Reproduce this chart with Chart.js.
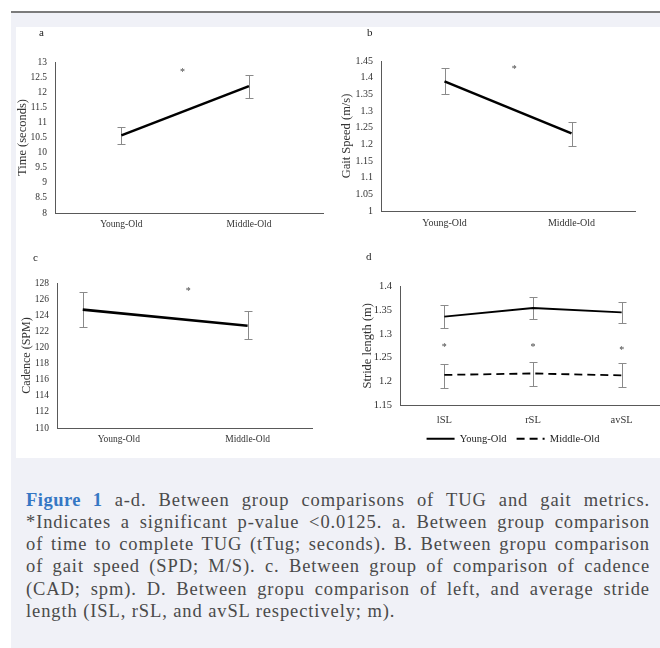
<!DOCTYPE html>
<html>
<head>
<meta charset="utf-8">
<script src="https://cdn.jsdelivr.net/npm/chart.js@4.4.0/dist/chart.umd.min.js"></script>
<style>
  body { margin: 0; width: 660px; height: 648px; position: relative; overflow: hidden; background: #fff; font-family: 'Liberation Serif', serif; }
  #box { position: absolute; left: 11px; top: 11px; width: 649px; height: 637px; background: #f0f1f7; border-top: 2px solid #7b7b7b; }
  #fig { position: absolute; left: 16px; top: 27px; width: 644px; height: 431px; background: #fff; }
  canvas { position: absolute; }
  .lbl { position: absolute; font-size: 11px; color: #222; line-height: 12px; }
  .cap { position: absolute; left: 26px; width: 624px; font-size: 18.5px; letter-spacing: 0.9px; line-height: 22px; color: #4a4a4a; text-align: justify; text-align-last: justify; white-space: nowrap; }
  .cap.last { text-align-last: left; }
  .cap b { color: #3577c4; letter-spacing: 0.5px; }
</style>
</head>
<body>
<div id="box"></div>
<div id="fig"></div>

<canvas id="chartA" width="330" height="213" style="left:0;top:27px"></canvas>
<canvas id="chartB" width="330" height="213" style="left:330px;top:27px"></canvas>
<canvas id="chartC" width="330" height="218" style="left:0;top:240px"></canvas>
<canvas id="chartD" width="340" height="218" style="left:330px;top:240px"></canvas>

<div class="lbl" style="left:39px;top:26px">a</div>
<div class="lbl" style="left:367px;top:26px">b</div>
<div class="lbl" style="left:33px;top:251px">c</div>
<div class="lbl" style="left:366px;top:250px">d</div>

<div class="cap" style="top:489px"><b>Figure 1</b> a-d. Between group comparisons of TUG and gait metrics.</div>
<div class="cap" style="top:511px">*Indicates a significant p-value &lt;0.0125. a. Between group comparison</div>
<div class="cap" style="top:533px">of time to complete TUG (tTug; seconds). B. Between gropu comparison</div>
<div class="cap" style="top:555px">of gait speed (SPD; M/S). c. Between group of comparison of cadence</div>
<div class="cap" style="top:578px">(CAD; spm). D. Between gropu comparison of left, and average stride</div>
<div class="cap last" style="top:600px">length (ISL, rSL, and avSL respectively; m).</div>

<script>
// Groups compared in panels a-c
const groups = ['Young-Old', 'Middle-Old'];
const groupPos = [0, 1];

// a. time to complete TUG (seconds)
const tugMean = [10.57, 12.2];
const tugHigh = [10.85, 12.58];
const tugLow = [10.3, 11.8];
const tugStarX = [0.48];
const tugStarY = [12.71];

// b. gait speed (m/s)
const speedMean = [1.389, 1.233];
const speedHigh = [1.43, 1.268];
const speedLow = [1.35, 1.195];
const speedStarX = [0.55];
const speedStarY = [1.43];

// c. cadence (SPM) - young-old point sits left of its label in the original
const cadX = [-0.28, 1];
const cadMean = [124.7, 122.7];
const cadHigh = [126.9, 124.5];
const cadLow = [122.5, 121.0];
const cadStarX = [0.54];
const cadStarY = [127.2];

// d. stride length (m)
const strideCats = ['lSL', 'rSL', 'avSL'];
const youngStride = [1.336, 1.354, 1.345];
const youngStrideHigh = [1.36, 1.376, 1.367];
const youngStrideLow = [1.313, 1.331, 1.322];
const middleStride = [1.214, 1.217, 1.213];
const middleStrideHigh = [1.237, 1.24, 1.238];
const middleStrideLow = [1.187, 1.191, 1.189];
const strideStarX = [0, 1, 2];
const strideStarY = [1.275, 1.275, 1.27];

Chart.defaults.font.family = "'Liberation Serif', serif";
Chart.defaults.color = '#333';

const axisColor = '#595959';
const errColor = '#8a8a8a';
const noGrid = { display: false, drawTicks: false };

// Error bars drawn under the lines, from errHigh / errLow on each dataset
const errorBars = {
  id: 'errorBars',
  beforeDatasetsDraw(chart) {
    const ctx = chart.ctx;
    const y = chart.scales.y;
    ctx.save();
    ctx.strokeStyle = errColor;
    ctx.lineWidth = 1;
    chart.data.datasets.forEach((ds, i) => {
      const meta = chart.getDatasetMeta(i);
      meta.data.forEach((pt, j) => {
        const px = Math.round(pt.x) + 0.5;
        const top = Math.round(y.getPixelForValue(ds.errHigh[j])) + 0.5;
        const bot = Math.round(y.getPixelForValue(ds.errLow[j])) + 0.5;
        ctx.beginPath();
        ctx.moveTo(px, top); ctx.lineTo(px, bot);
        ctx.moveTo(px - 4, top); ctx.lineTo(px + 4, top);
        ctx.moveTo(px - 4, bot); ctx.lineTo(px + 4, bot);
        ctx.stroke();
      });
    });
    ctx.restore();
  }
};

// Significance asterisks placed on the chart scales
const stars = {
  id: 'stars',
  afterDatasetsDraw(chart, args, opts) {
    if (!opts.x) return;
    const ctx = chart.ctx;
    ctx.save();
    ctx.fillStyle = '#444';
    ctx.font = "10px 'Liberation Serif'";
    ctx.textAlign = 'center';
    ctx.textBaseline = 'middle';
    opts.x.forEach((xv, i) => {
      const px = chart.scales.x.getPixelForValue(xv);
      const py = chart.scales.y.getPixelForValue(opts.y[i]);
      ctx.fillText('*', px, py + 2);
    });
    ctx.restore();
  }
};

function fmt(v) {
  return String(+v.toFixed(2));
}

// Two-group line chart (panels a-c)
function groupChart(id, o) {
  return new Chart(document.getElementById(id), {
    type: 'line',
    data: {
      datasets: [{
        data: o.xs.map((x, i) => ({ x: x, y: o.mean[i] })),
        errHigh: o.high,
        errLow: o.low,
        borderColor: '#000',
        borderWidth: 2.6,
        pointRadius: 0,
        tension: 0,
        fill: false
      }]
    },
    options: {
      responsive: false,
      animation: false,
      devicePixelRatio: 1,
      layout: { padding: o.pad },
      plugins: {
        legend: { display: false },
        tooltip: { enabled: false },
        stars: { x: o.starX, y: o.starY }
      },
      scales: {
        x: {
          type: 'linear',
          min: o.xMin,
          max: o.xMax,
          afterBuildTicks: s => { s.ticks = groupPos.map(v => ({ value: v })); },
          afterFit: s => { s.height = o.xHeight; },
          grid: noGrid,
          border: { color: axisColor, width: 1 },
          ticks: { callback: v => groups[v], padding: 6, maxRotation: 0, font: { size: o.tickSize }, color: '#333' }
        },
        y: {
          min: o.yMin,
          max: o.yMax,
          afterFit: s => { s.width = o.yWidth; },
          grid: noGrid,
          border: { color: axisColor, width: 1 },
          ticks: { stepSize: o.step, autoSkip: false, padding: 8, callback: fmt, font: { size: o.tickSize }, color: '#333' },
          title: { display: true, text: o.title, padding: 0, font: { size: o.titleSize }, color: '#333' }
        }
      }
    },
    plugins: [errorBars, stars]
  });
}

groupChart('chartA', {
  xs: groupPos, mean: tugMean, high: tugHigh, low: tugLow,
  starX: tugStarX, starY: tugStarY,
  xMin: -0.52, xMax: 1.58, yMin: 8, yMax: 13, step: 0.5,
  title: 'Time (seconds)', titleSize: 12.5, tickSize: 9.5,
  pad: { left: 15, top: 35, right: 7, bottom: 0 }, yWidth: 40, xHeight: 27
});

groupChart('chartB', {
  xs: groupPos, mean: speedMean, high: speedHigh, low: speedLow,
  starX: speedStarX, starY: speedStarY,
  xMin: -0.5, xMax: 1.5, yMin: 1, yMax: 1.45, step: 0.05,
  title: 'Gait Speed (m/s)', titleSize: 12.5, tickSize: 10,
  pad: { left: 9, top: 34, right: 25, bottom: 0 }, yWidth: 42, xHeight: 29
});

groupChart('chartC', {
  xs: cadX, mean: cadMean, high: cadHigh, low: cadLow,
  starX: cadStarX, starY: cadStarY,
  xMin: -0.48, xMax: 1.5, yMin: 110, yMax: 128, step: 2,
  title: 'Cadence (SPM)', titleSize: 12, tickSize: 9.5,
  pad: { left: 20, top: 43, right: 18, bottom: 0 }, yWidth: 37, xHeight: 30
});

// d. stride length for both groups
const strideLines = [
  { label: 'Young-Old', data: youngStride, errHigh: youngStrideHigh, errLow: youngStrideLow, borderDash: [] },
  { label: 'Middle-Old', data: middleStride, errHigh: middleStrideHigh, errLow: middleStrideLow, borderDash: [8, 5] }
];

new Chart(document.getElementById('chartD'), {
  type: 'line',
  data: {
    labels: strideCats,
    datasets: strideLines.map(s => Object.assign({
      borderColor: '#000',
      borderWidth: 1.8,
      pointRadius: 0,
      tension: 0
    }, s))
  },
  options: {
    responsive: false,
    animation: false,
    devicePixelRatio: 1,
    layout: { padding: { left: 30, top: 46, right: 4, bottom: 4 } },
    plugins: {
      legend: {
        position: 'bottom',
        labels: {
          usePointStyle: true,
          pointStyle: 'line',
          pointStyleWidth: 28,
          padding: 10,
          color: '#222',
          font: { size: 10.5 },
          // legend lines take the dataset dash pattern
          generateLabels: chart => chart.data.datasets.map((ds, i) => ({
            text: ds.label,
            datasetIndex: i,
            pointStyle: 'line',
            strokeStyle: '#000',
            fillStyle: '#000',
            lineWidth: 1.8,
            lineDash: ds.borderDash,
            fontColor: '#222',
            hidden: false
          }))
        }
      },
      tooltip: { enabled: false },
      stars: { x: strideStarX, y: strideStarY }
    },
    scales: {
      x: {
        offset: true,
        afterFit: s => { s.height = 18; },
        grid: noGrid,
        border: { color: axisColor, width: 1 },
        ticks: { padding: 8, maxRotation: 0, font: { size: 10.5 }, color: '#333' }
      },
      y: {
        min: 1.15,
        max: 1.4,
        afterFit: s => { s.width = 40; },
        grid: noGrid,
        border: { color: axisColor, width: 1 },
        ticks: { stepSize: 0.05, autoSkip: false, padding: 8, callback: fmt, font: { size: 10.5 }, color: '#333' },
        title: { display: true, text: 'Stride length (m)', padding: 0, font: { size: 12.5 }, color: '#333' }
      }
    }
  },
  plugins: [errorBars, stars]
});
</script>
</body>
</html>
